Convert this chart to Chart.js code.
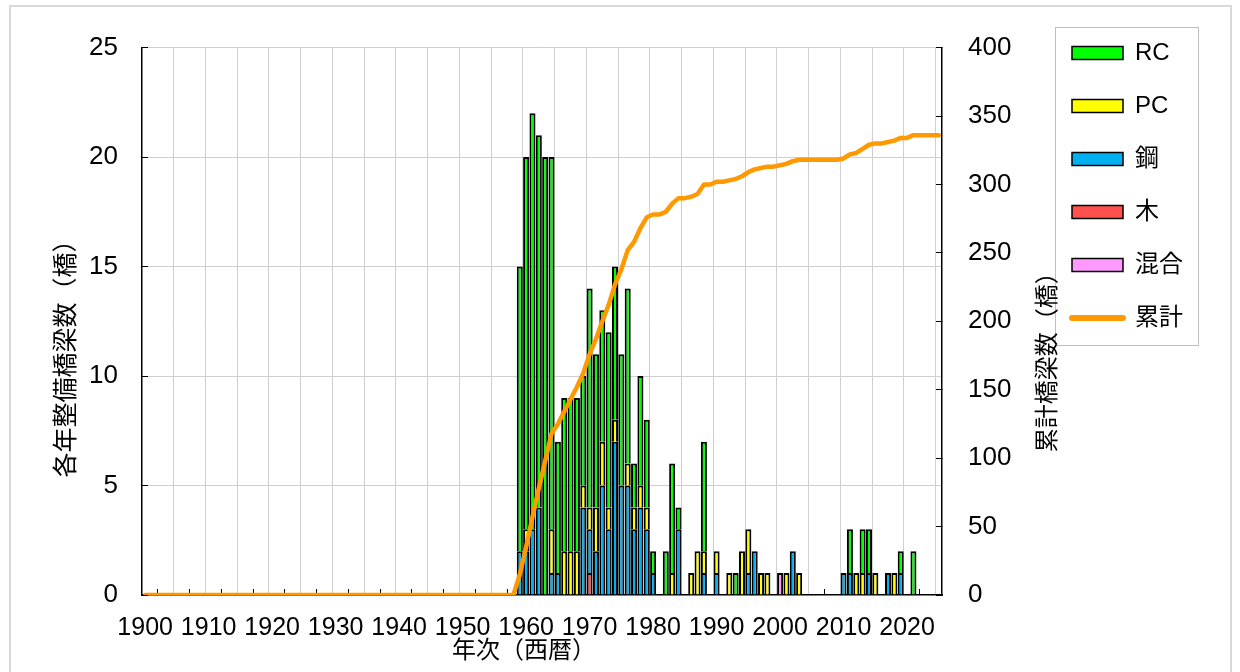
<!DOCTYPE html>
<html><head><meta charset="utf-8">
<script src="https://cdn.jsdelivr.net/npm/chart.js@4.4.1/dist/chart.umd.min.js"></script>
<style>
html,body{margin:0;padding:0;background:#fff;}
#wrap{position:relative;width:1240px;height:672px;overflow:hidden;background:#fff;}
#frame{position:absolute;left:9px;top:5px;width:1223px;height:700px;border:2px solid #d9d9d9;box-sizing:border-box;pointer-events:none;}
canvas{position:absolute;left:0;top:0;}
</style></head><body>
<div id="wrap"><canvas id="c" width="1240" height="672"></canvas><div id="frame"></div></div>
<script>
// ---- categories ----
const years = [];
for (let y = 1900; y <= 2025; y++) years.push(String(y));
const tickYears = [1900,1910,1920,1930,1940,1950,1960,1970,1980,1990,2000,2010,2020];

// ---- series (one value per year, 1900..2025) ----
const rc = [
  0,0,0,0,0,0,0,0,0,0,  0,0,0,0,0,0,0,0,0,0,  0,0,0,0,0,0,0,0,0,0,
  0,0,0,0,0,0,0,0,0,0,  0,0,0,0,0,0,0,0,0,0,
  0,0,0,0,0,0,0,0,0,13,          // 1950s
  17,19,17,20,17,6,7,7,7,5,       // 1960s
  10,7,6,8,7,6,8,2,5,4,           // 1970s
  1,0,2,5,1,0,0,0,5,0,            // 1980s
  0,0,0,1,0,0,0,0,0,0,            // 1990s
  0,0,0,0,0,0,0,0,0,0,            // 2000s
  0,2,0,2,2,0,0,0,0,1,            // 2010s
  0,2,0,0,0,0                     // 2020s
];
const pc = [
  0,0,0,0,0,0,0,0,0,0,  0,0,0,0,0,0,0,0,0,0,  0,0,0,0,0,0,0,0,0,0,
  0,0,0,0,0,0,0,0,0,0,  0,0,0,0,0,0,0,0,0,0,
  0,0,0,0,0,0,0,0,0,0,
  1,0,0,0,2,0,2,2,2,1,
  1,2,2,1,1,0,1,1,1,1,
  0,0,0,1,0,0,1,2,1,0,
  1,0,1,0,2,2,0,1,1,0,
  0,1,0,1,0,0,0,0,0,0,
  0,0,1,1,0,1,0,0,1,0,
  0,0,0,0,0,0
];
const steel = [
  0,0,0,0,0,0,0,0,0,0,  0,0,0,0,0,0,0,0,0,0,  0,0,0,0,0,0,0,0,0,0,
  0,0,0,0,0,0,0,0,0,0,  0,0,0,0,0,0,0,0,0,0,
  0,0,0,0,0,0,0,0,0,2,
  2,3,4,0,1,1,0,0,0,4,
  2,2,5,3,7,5,5,3,4,3,
  1,0,0,0,3,0,0,0,1,0,
  1,0,0,0,0,1,2,0,0,0,
  0,0,2,0,0,0,0,0,0,0,
  1,1,0,0,1,0,0,1,0,1,
  0,0,0,0,0,0
];
const wood = [
  0,0,0,0,0,0,0,0,0,0,  0,0,0,0,0,0,0,0,0,0,  0,0,0,0,0,0,0,0,0,0,
  0,0,0,0,0,0,0,0,0,0,  0,0,0,0,0,0,0,0,0,0,
  0,0,0,0,0,0,0,0,0,0,
  0,0,0,0,0,0,0,0,0,0,
  1,0,0,0,0,0,0,0,0,0,
  0,0,0,0,0,0,0,0,0,0,
  0,0,0,0,0,0,0,0,0,0,
  0,0,0,0,0,0,0,0,0,0,
  0,0,0,0,0,0,0,0,0,0,
  0,0,0,0,0,0
];
const mixed = [
  0,0,0,0,0,0,0,0,0,0,  0,0,0,0,0,0,0,0,0,0,  0,0,0,0,0,0,0,0,0,0,
  0,0,0,0,0,0,0,0,0,0,  0,0,0,0,0,0,0,0,0,0,
  0,0,0,0,0,0,0,0,0,0,
  0,0,0,0,0,0,0,0,0,0,
  0,0,0,0,0,0,0,0,0,0,
  0,0,0,0,0,0,0,0,0,0,
  0,0,0,0,0,0,0,0,0,0,
  1,0,0,0,0,0,0,0,0,0,
  0,0,0,0,0,0,0,0,0,0,
  0,0,0,0,0,0
];
const cumulative = [
  0,0,0,0,0,0,0,0,0,0,  0,0,0,0,0,0,0,0,0,0,  0,0,0,0,0,0,0,0,0,0,
  0,0,0,0,0,0,0,0,0,0,  0,0,0,0,0,0,0,0,0,0,
  0,0,0,0,0,0,0,0,0,15,
  35,57,78,98,118,125,134,143,152,162,
  176,187,200,212,227,238,252,258,268,276,
  278,278,280,286,290,290,291,293,300,300,
  302,302,303,304,306,309,311,312,313,313,
  314,315,317,318,318,318,318,318,318,318,
  319,322,323,326,329,330,330,331,332,334,
  334,336,336,336,336,336
];

// ---- text ----
const seriesNames = ['RC','PC','鋼','木','混合','累計'];
const xTitle = '年次（西暦）';
const yTitle = '各年整備橋梁数（橋）';
const y1Title = '累計橋梁数（橋）';
const yMax = 25, yStep = 5, y1Max = 400, y1Step = 50;

const FONT = "'Liberation Sans', 'Noto Sans CJK JP', sans-serif";
Chart.defaults.font.family = FONT;
Chart.defaults.color = '#000';

const GRID = '#cfcfcf';
const CLEAR = 'rgba(0,0,0,0)';

const barBase = {
  borderColor: '#000', borderWidth: 2, borderSkipped: 'start',
  barPercentage: 0.95, categoryPercentage: 1.0,
  order: 1, xAxisID: 'x', yAxisID: 'y', stack: 'bridges'
};

const decor = {
  id: 'decor',
  afterDraw(chart) {
    const c = chart.ctx, L = chart.legend, a = chart.chartArea;
    c.save();
    c.strokeStyle = '#bfbfbf'; c.lineWidth = 1;
    c.strokeRect(Math.round(L.left) + 12.5, Math.round(L.top) + 15.5, 143, 318);
    c.fillStyle = '#000';
    c.font = '24px ' + FONT;
    c.textAlign = 'center'; c.textBaseline = 'middle';
    c.translate(chart.scales.y1.right + 5, (a.top + a.bottom) / 2 + 35);
    c.rotate(-Math.PI / 2);
    c.fillText(y1Title, 0, 0);
    c.restore();
  }
};

new Chart(document.getElementById('c'), {
  type: 'bar',
  data: {
    labels: years,
    datasets: [
      Object.assign({label: seriesNames[3], data: wood,  backgroundColor: '#FF5050'}, barBase),
      Object.assign({label: seriesNames[4], data: mixed, backgroundColor: '#FF99FF'}, barBase),
      Object.assign({label: seriesNames[2], data: steel, backgroundColor: '#00B0F0'}, barBase),
      Object.assign({label: seriesNames[1], data: pc,    backgroundColor: '#FFFF00'}, barBase),
      Object.assign({label: seriesNames[0], data: rc,    backgroundColor: '#00FF00'}, barBase),
      {type: 'line', label: seriesNames[5], data: cumulative, xAxisID: 'x', yAxisID: 'y1',
       borderColor: '#FF9900', backgroundColor: '#FF9900', borderWidth: 4.5,
       pointRadius: 0, pointHoverRadius: 0, tension: 0, fill: false, order: 0,
       borderCapStyle: 'round', borderJoinStyle: 'round'}
    ]
  },
  options: {
    responsive: false, animation: false, devicePixelRatio: 1,
    layout: {padding: {left: 0, right: 47, top: 12, bottom: 0}},
    plugins: {
      tooltip: {enabled: false},
      title: {display: true, text: '', font: {size: 10, lineHeight: 1.2}, padding: {top: 0, bottom: 20}},
      legend: {
        position: 'right', align: 'start',
        labels: {
          usePointStyle: true, pointStyleWidth: 51, boxWidth: 51, boxHeight: 13,
          padding: 29, color: '#000', font: {size: 24},
          generateLabels(chart) {
            const items = Chart.defaults.plugins.legend.labels.generateLabels(chart);
            items.forEach(it => {
              const ds = chart.data.datasets[it.datasetIndex];
              if (ds.type === 'line') {
                it.pointStyle = 'line'; it.lineWidth = 6; it.strokeStyle = '#FF9900'; it.lineCap = 'round';
              } else {
                it.pointStyle = 'rect'; it.lineWidth = 1.5; it.strokeStyle = '#000';
              }
            });
            return seriesNames.map(n => items.find(i => i.text === n));
          }
        }
      }
    },
    scales: {
      x: {
        type: 'category', position: 'bottom', stacked: true, offset: true,
        afterFit(s) { s.height = 77; },
        grid: {offset: true, drawTicks: false, lineWidth: 1,
               color: (c) => (c.index > 0 && c.index % 5 === 0) ? GRID : CLEAR},
        border: {display: true, color: '#000', width: 1.5},
        ticks: {autoSkip: false, maxRotation: 0, minRotation: 0, padding: 18,
                font: {size: 25}, color: '#000',
                callback(v) { const lab = this.getLabelForValue(v); return tickYears.includes(Number(lab)) ? lab : ''; }},
        title: {display: true, text: xTitle + '　　', font: {size: 24}, color: '#000', padding: {top: 0, bottom: 6}}
      },
      x2: {
        type: 'category', position: 'bottom', weight: -1, offset: true,
        afterFit(s) { s.height = 0; },
        grid: {offset: false, drawOnChartArea: false, drawTicks: true, tickLength: -6, tickWidth: 1,
               tickColor: (c) => (c.index % 5 === 2) ? '#000' : CLEAR},
        border: {display: false},
        ticks: {display: false, autoSkip: false}
      },
      y: {
        type: 'linear', position: 'left', stacked: true, min: 0, max: yMax,
        afterFit(s) { s.width = 142; },
        ticks: {stepSize: yStep, padding: 30, font: {size: 26}, color: '#000'},
        grid: {lineWidth: 1, color: (c) => (c.tick && c.tick.value === 0) ? CLEAR : GRID,
               drawTicks: true, tickLength: -6, tickColor: '#000', tickWidth: 1},
        border: {color: '#000', width: 1.5},
        title: {display: true, text: yTitle + '　　　', font: {size: 25}, color: '#000', padding: {top: 52, bottom: 0}}
      },
      y1: {
        type: 'linear', position: 'right', min: 0, max: y1Max,
        afterFit(s) { s.width = 101; },
        ticks: {stepSize: y1Step, padding: 32, font: {size: 26}, color: '#000'},
        grid: {drawOnChartArea: false, drawTicks: true, tickLength: -6, tickColor: '#000', tickWidth: 1},
        border: {color: '#000', width: 1.5}
      }
    }
  },
  plugins: [decor]
});
</script>
</body></html>
